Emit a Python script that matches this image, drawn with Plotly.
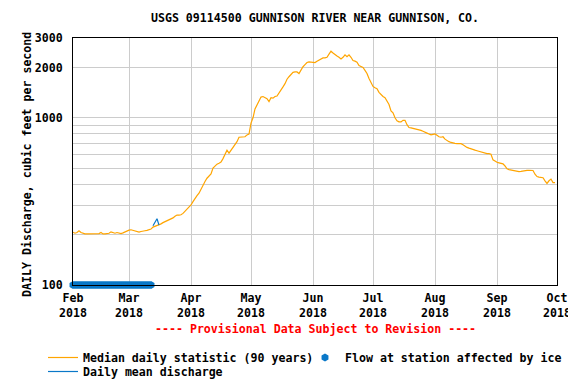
import plotly.graph_objects as go
import pandas as pd

# Median daily statistic (90 years), cfs, Feb 1 - Sep 30
feb = [207, 204, 206, 211, 206, 203, 202, 202, 202, 202, 202, 202, 202, 203,
       206, 202, 202, 202, 204, 208, 206, 204, 206, 204, 203, 205, 208, 210]
mar = [213, 214, 212, 210, 207, 207, 209, 211, 211, 212, 213, 216, 222, 224,
       226, 229, 232, 236, 239, 242, 244, 248, 252, 258, 262, 262, 263, 268,
       275, 285, 292]
apr = [301, 315, 330, 342, 354, 375, 400, 416, 435, 450, 462, 500, 515, 528,
       535, 543, 570, 600, 640, 615, 640, 660, 690, 720, 765, 765, 765, 770,
       790, 800]
may = [930, 1000, 1130, 1200, 1270, 1330, 1340, 1320, 1300, 1250, 1320, 1310,
       1340, 1350, 1400, 1460, 1530, 1600, 1700, 1760, 1820, 1870, 1880, 1880,
       1840, 1950, 2020, 2080, 2140, 2160, 2150]
jun = [2140, 2140, 2180, 2220, 2260, 2280, 2280, 2300, 2400, 2500, 2440, 2380,
       2340, 2300, 2250, 2300, 2380, 2320, 2380, 2300, 2200, 2180, 2150, 2050,
       2020, 2000, 1920, 1840, 1720, 1620]
jul = [1540, 1510, 1490, 1420, 1370, 1340, 1320, 1260, 1200, 1100, 1070, 1000,
       960, 945, 945, 965, 965, 910, 875, 870, 865, 855, 850, 850, 840, 830,
       815, 810, 800, 790, 795]
aug = [800, 785, 770, 765, 770, 745, 730, 720, 712, 705, 703, 701, 700, 700,
       690, 675, 665, 658, 650, 645, 640, 635, 630, 628, 620, 612, 610, 610,
       605, 560, 548]
sep = [542, 538, 533, 530, 515, 495, 490, 487, 485, 482, 480, 477, 478, 482,
       485, 485, 485, 485, 484, 460, 445, 442, 440, 438, 420, 405, 420, 430,
       410, 410]
median_values = feb + mar + apr + may + jun + jul + aug + sep
median_dates = pd.date_range("2018-02-01", periods=len(median_values), freq="D")

# Daily mean discharge (provisional)
daily_dates = ["2018-03-13", "2018-03-14", "2018-03-15", "2018-03-16"]
daily_values = [226, 238, 249, 228]

# Ice-affected days (plotted at bottom of axis)
ice_dates = pd.date_range("2018-02-01", "2018-03-12", freq="D")
ice_values = [100] * len(ice_dates)

month_ticks = ["2018-02-01", "2018-03-01", "2018-04-01", "2018-05-01", "2018-06-01",
               "2018-07-01", "2018-08-01", "2018-09-01", "2018-10-01"]
month_labels = ["Feb<br>2018", "Mar<br>2018", "Apr<br>2018", "May<br>2018", "Jun<br>2018",
                "Jul<br>2018", "Aug<br>2018", "Sep<br>2018", "Oct<br>2018"]
y_major = [100, 1000, 2000, 3000]
y_minor = [200, 300, 400, 500, 600, 700, 800, 900]

FONT = "DejaVu Sans Mono"
FS = 11.6
BLUE = "#0a78c8"
ORANGE = "#ffa500"
LEG_FONT = dict(family=FONT, size=FS, color="black", weight="bold")

# the page body adds an 8 px offset; the figure is sized / placed to compensate
W, H, OFF = 568, 376, 8

fig = go.Figure()
fig.add_trace(go.Scatter(x=median_dates, y=median_values, mode="lines",
                         line=dict(color=ORANGE, width=1.2),
                         name="Median daily statistic (90 years)", legend="legend"))
fig.add_trace(go.Scatter(x=ice_dates, y=ice_values, mode="markers",
                         marker=dict(symbol="hexagon", size=8, color=BLUE,
                                     line=dict(width=0)),
                         cliponaxis=False,
                         name="Flow at station affected by ice", legend="legend2"))
fig.add_trace(go.Scatter(x=daily_dates, y=daily_values, mode="lines",
                         line=dict(color=BLUE, width=1.2),
                         name="Daily mean discharge", legend="legend3"))


def leg(px, py):
    return dict(orientation="v", xref="container", yref="container",
                x=(px - OFF) / W, xanchor="left", y=1 - (py - OFF) / H, yanchor="top",
                tracegroupgap=0, itemwidth=30, font=LEG_FONT,
                bgcolor="rgba(0,0,0,0)")


fig.update_layout(
    width=W, height=H,
    margin=dict(l=73 - OFF, r=19, t=38 - OFF, b=99, autoexpand=False),
    paper_bgcolor="white", plot_bgcolor="white",
    font=dict(family=FONT, size=FS, color="black", weight="bold"),
    title=dict(text="USGS 09114500 GUNNISON RIVER NEAR GUNNISON, CO.",
               x=0.5, xref="paper", xanchor="center", y=1 - (18 - OFF) / H,
               yanchor="middle",
               font=dict(family=FONT, size=FS, color="black", weight="bold")),
    showlegend=True,
    legend=leg(43, 343),
    legend2=leg(305, 343),
    legend3=leg(43, 357),
    annotations=[
        dict(text="---- Provisional Data Subject to Revision ----",
             x=0.5, xref="paper", y=-0.178, yref="paper",
             xanchor="center", yanchor="middle", showarrow=False,
             font=dict(family=FONT, size=FS, color="red", weight="bold")),
        dict(text="DAILY Discharge, cubic feet per second", textangle=-90,
             x=(27 - 73) / 484, xref="paper", y=0.486, yref="paper",
             xanchor="center", yanchor="middle", showarrow=False,
             font=dict(family=FONT, size=FS, color="black", weight="bold")),
    ],
)
fig.update_xaxes(type="date", range=["2018-02-01", "2018-10-01"], automargin=False,
                 tickmode="array", tickvals=month_ticks, ticktext=month_labels,
                 showgrid=True, gridcolor="#cccccc", gridwidth=1,
                 showline=True, linecolor="black", linewidth=1, mirror=True,
                 ticks="", zeroline=False, ticklabelstandoff=2)
fig.update_yaxes(type="log", range=[2, 3.4771], automargin=False,
                 tickmode="array", tickvals=y_major, ticktext=[str(v) for v in y_major],
                 showgrid=True, gridcolor="#cccccc", gridwidth=1,
                 minor=dict(tickmode="array", tickvals=y_minor, showgrid=True,
                            gridcolor="#cccccc", gridwidth=1, ticks=""),
                 showline=True, linecolor="black", linewidth=1, mirror=True,
                 ticks="", ticklabelstandoff=7)

fig.write_html("out.html", config={"displayModeBar": False})
